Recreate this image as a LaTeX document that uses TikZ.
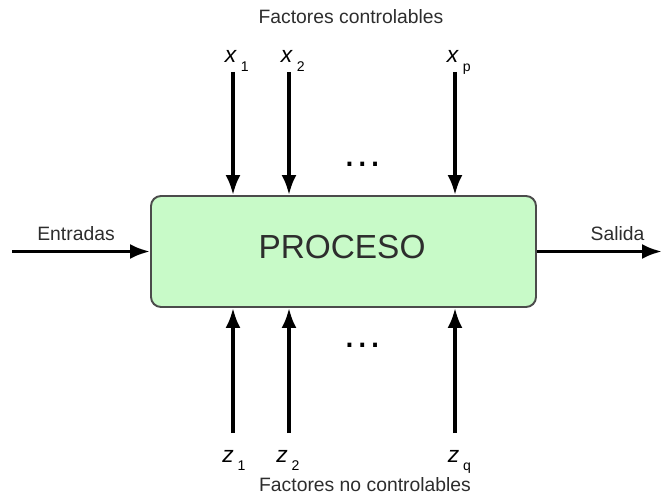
\documentclass[tikz,border=0pt]{standalone}
\usepackage{fontspec}
\setmainfont{Liberation Sans}
\usetikzlibrary{arrows.meta,positioning}
\definecolor{boxFill}{RGB}{200,250,200}
\definecolor{penColor}{RGB}{75,75,75}
\definecolor{textColor}{RGB}{45,45,45}
\tikzset{>={Latex[length=0.4cm,width=0.3cm]}}
\tikzset{
  flow/.style={->,line width=2pt,black},
  lbl/.style={text=textColor,inner sep=0pt,font=\fontsize{11}{13}\selectfont},
  var/.style={inner sep=0pt,anchor=base,font=\fontsize{13}{15}\selectfont},
  dots/.style={inner sep=0pt,font=\fontsize{23}{23}\selectfont}
}
\newcommand{\subv}[2]{\textit{#1}\rlap{\,\raisebox{-5pt}{\fontsize{8}{8}\selectfont #2}}}

\begin{document}
\begin{tikzpicture}
      \useasboundingbox (0,0) rectangle (13.26,9.9);

      \node [draw=penColor,line width=1.1pt,fill=boxFill,rounded corners=0.2cm,
             minimum width=7.7cm,minimum height=2.22cm] (proc) at (6.87,4.87) {};
      \node [text=textColor,inner sep=0pt,font=\fontsize{19}{21}\selectfont] (proctxt)
            at ([xshift=-0.03cm,yshift=0.09cm]proc.center) {PROCESO};

      % entrada y salida
      \coordinate (inp) at (0.24,4.87);
      \coordinate (out) at (13.24,4.87);
      \draw [flow] (inp) -- (proc.west);
      \draw [flow] (proc.east) -- (out);
      \node [lbl] (entr) at (1.52,5.22) {Entradas};
      \node [lbl] (sal) at (12.35,5.22) {Salida};

      % factores controlables
      \node [lbl] (fc) at (7.02,9.56) {Factores controlables};
      \coordinate (x1s) at (4.66,8.46);
      \coordinate (x2s) at (5.78,8.46);
      \coordinate (xps) at (9.10,8.46);
      \node [var] (x1) at (4.62,8.64) {\subv{x}{1}};
      \node [var] (x2) at (5.74,8.64) {\subv{x}{2}};
      \node [var] (xp) at (9.06,8.64) {\subv{x}{p}};
      \draw [flow] (x1s) -- (x1s |- proc.north);
      \draw [flow] (x2s) -- (x2s |- proc.north);
      \draw [flow] (xps) -- (xps |- proc.north);
      \node [dots] (dtop) at (7.26,6.62) {…};

      % factores no controlables
      \coordinate (z1s) at (4.66,1.24);
      \coordinate (z2s) at (5.78,1.24);
      \coordinate (zqs) at (9.10,1.24);
      \draw [flow] (z1s) -- (z1s |- proc.south);
      \draw [flow] (z2s) -- (z2s |- proc.south);
      \draw [flow] (zqs) -- (zqs |- proc.south);
      \node [var] (z1) at (4.56,0.66) {\subv{z}{1}};
      \node [var] (z2) at (5.64,0.66) {\subv{z}{2}};
      \node [var] (zq) at (9.07,0.66) {\subv{z}{q}};
      \node [dots] (dbot) at (7.26,3.0) {…};
      \node [lbl] (fnc) at (7.3,0.2) {Factores no controlables};
    \end{tikzpicture}
\end{document}
